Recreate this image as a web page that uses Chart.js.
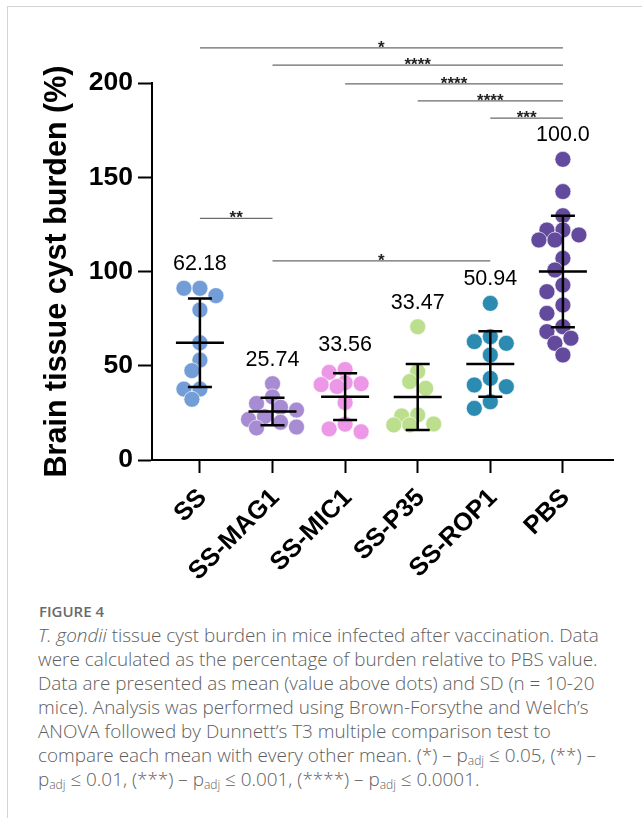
<!DOCTYPE html>
<html>
<head>
<meta charset="utf-8">
<script src="https://cdn.jsdelivr.net/npm/chart.js@4.4.1/dist/chart.umd.min.js"></script>
<style>
  body { margin: 0; background: #fff; width: 642px; height: 818px; overflow: hidden; position: relative; font-family: "Open Sans", sans-serif; }
  #frame { position: absolute; left: 7px; top: 6px; width: 700px; height: 900px; border-left: 1px solid #d4d4d4; border-top: 1px solid #d4d4d4; }
  #wrap { position: absolute; left: 0; top: 0; width: 642px; height: 596px; }
  #fig { position: absolute; left: 39px; top: 601px; font-size: 15px; font-weight: 600; color: #6a6a6a; }
  #cap { position: absolute; left: 38px; top: 623px; font-size: 18.9px; font-weight: 300; line-height: 24px; color: #5e5e5e; white-space: nowrap; }
  sub { font-size: 12px; vertical-align: -3px; line-height: 0; }
</style>
</head>
<body>
<div id="frame"></div>
<div id="wrap"><canvas id="myChart" width="642" height="596"></canvas></div>
<div id="fig">FIGURE 4</div>
<div id="cap">
<i>T. gondii</i> tissue cyst burden in mice infected after vaccination. Data<br>
were calculated as the percentage of burden relative to PBS value.<br>
Data are presented as mean (value above dots) and SD (n = 10-20<br>
mice). Analysis was performed using Brown-Forsythe and Welch’s<br>
ANOVA followed by Dunnett’s T3 multiple comparison test to<br>
compare each mean with every other mean. (*) – p<sub>adj</sub> ≤ 0.05, (**) –<br>
p<sub>adj</sub> ≤ 0.01, (***) – p<sub>adj</sub> ≤ 0.001, (****) – p<sub>adj</sub> ≤ 0.0001.
</div>
<script>
let groups = ['SS', 'SS-MAG1', 'SS-MIC1', 'SS-P35', 'SS-ROP1', 'PBS'];
let colors = ['#729dd6', '#a78bd3', '#ec98e7', '#bcdf8d', '#2b8bb1', '#644a9d'];
let meanLabels = ['62.18', '25.74', '33.56', '33.47', '50.94', '100.0'];
let means = [62.18, 25.74, 33.56, 33.47, 50.94, 100.0];
let sds = [23.5, 7.3, 12.4, 17.5, 17.4, 29.6];

let ssVals = [91.1, 91.1, 87.2, 79.6, 62.2, 53.0, 47.4, 37.6, 37.6, 32.2];
let mag1Vals = [40.5, 33.5, 30, 28, 26.5, 23, 21.5, 20, 17.5, 17];
let mic1Vals = [48, 46.5, 41, 40.5, 40, 39, 30.5, 19, 16.5, 15];
let p35Vals = [70.7, 46.9, 41.6, 38.0, 23.9, 23.4, 19.1, 18.6, 18.6];
let rop1Vals = [83.1, 65.4, 62.8, 61.9, 55.7, 43.3, 39.8, 38.9, 30.9, 27.4];
let pbsVals = [159.5, 142.4, 129.6, 122, 122, 119.4, 116.7, 116.7, 107, 100.8,
               92.8, 89.3, 82.2, 77.8, 70.7, 68.1, 64.6, 61.9, 55.7];
let allVals = [ssVals, mag1Vals, mic1Vals, p35Vals, rop1Vals, pbsVals];

let yTicks = [0, 50, 100, 150, 200];

// [from group, to group, stars, height in % units]
let comparisons = [
    [0, 5, '*', 218.6],
    [1, 5, '****', 209.5],
    [2, 5, '****', 199.5],
    [3, 5, '****', 190.5],
    [4, 5, '***', 181.4],
    [0, 1, '**', 128.2],
    [1, 4, '*', 105.6]
];

let fontFam = '"Liberation Sans", Arial, sans-serif';

// mean line, SD whiskers, mean values and significance bars
let overlay = {
    id: 'overlay',
    afterDatasetsDraw(chart) {
        let ctx = chart.ctx;
        let x = chart.scales.x, y = chart.scales.y;
        ctx.save();
        ctx.strokeStyle = '#000';
        ctx.lineWidth = 2.5;
        means.forEach((m, i) => {
            let cx = x.getPixelForValue(i);
            let pm = y.getPixelForValue(m);
            let pt = y.getPixelForValue(m + sds[i]);
            let pb = y.getPixelForValue(m - sds[i]);
            ctx.beginPath();
            ctx.moveTo(cx - 24, pm); ctx.lineTo(cx + 24, pm);
            ctx.moveTo(cx, pt); ctx.lineTo(cx, pb);
            ctx.moveTo(cx - 12, pt); ctx.lineTo(cx + 12, pt);
            ctx.moveTo(cx - 12, pb); ctx.lineTo(cx + 12, pb);
            ctx.stroke();

            let top = y.getPixelForValue(Math.max(...allVals[i]));
            ctx.fillStyle = '#000';
            ctx.font = '21.5px ' + fontFam;
            ctx.textAlign = 'center';
            ctx.textBaseline = 'middle';
            ctx.fillText(meanLabels[i], cx, top - 24);
        });

        ctx.strokeStyle = '#6b6b6b';
        ctx.lineWidth = 1.2;
        ctx.font = 'bold 17px ' + fontFam;
        ctx.textBaseline = 'alphabetic';
        comparisons.forEach(c => {
            let x1 = x.getPixelForValue(c[0]);
            let x2 = x.getPixelForValue(c[1]);
            let py = y.getPixelForValue(c[3]);
            ctx.beginPath();
            ctx.moveTo(x1, py); ctx.lineTo(x2, py);
            ctx.stroke();
            ctx.fillStyle = '#222';
            ctx.fillText(c[2], (x1 + x2) / 2, py + 5);
        });
        ctx.restore();
    }
};

let datasets = allVals.map((vals, i) => ({
    label: groups[i],
    data: vals.map(v => ({ x: i, y: v })),
    backgroundColor: colors[i],
    borderColor: 'rgba(255,255,255,0.8)',
    borderWidth: 0.8,
    pointRadius: 8,
    pointHoverRadius: 8
}));

let myChart = document.getElementById('myChart').getContext('2d');

let chart = new Chart(myChart, {
    type: 'scatter',
    data: { datasets: datasets },
    options: {
        responsive: false,
        animation: false,
        events: [],
        layout: { padding: { top: 83, right: 29, left: 0, bottom: 0 } },
        plugins: { legend: { display: false }, tooltip: { enabled: false } },
        scales: {
            x: {
                type: 'linear',
                min: -0.66,
                max: 5.69,
                afterBuildTicks: s => { s.ticks = groups.map((g, i) => ({ value: i })); },
                afterFit: s => { s.height = 596 - 460; },
                ticks: {
                    callback: v => groups[v],
                    color: '#000',
                    font: { family: fontFam, size: 25.5, weight: 'bold' },
                    minRotation: 45,
                    maxRotation: 45,
                    padding: 10,
                    labelOffset: 3
                },
                grid: { drawOnChartArea: false, tickLength: 13, tickWidth: 2, tickColor: '#000' },
                border: { color: '#000', width: 2 }
            },
            y: {
                min: 0,
                max: 200,
                afterBuildTicks: s => { s.ticks = yTicks.map(v => ({ value: v })); },
                afterFit: s => { s.width = 152; },
                ticks: {
                    color: '#000',
                    font: { family: fontFam, size: 26.5, weight: 'bold' },
                    padding: 5
                },
                grid: { drawOnChartArea: false, tickLength: 14, tickWidth: 2, tickColor: '#000' },
                border: { color: '#000', width: 2 },
                title: {
                    display: true,
                    text: 'Brain tissue cyst burden (%)',
                    color: '#000',
                    font: { family: fontFam, size: 30.5, weight: 'bold' },
                    padding: { top: 39, bottom: 0 }
                }
            }
        }
    },
    plugins: [overlay]
});

// spread the dots sideways so they do not pile up (simple beeswarm)
function swarm(vals, yScale, minDist, step, maxSteps) {
    let placed = [];
    let offs = vals.map(() => 0);
    let order = vals.map((v, k) => k).sort((a, b) => vals[b] - vals[a]);
    order.forEach(k => {
        let py = yScale.getPixelForValue(vals[k]);
        let best = 0, bestGap = -1;
        for (let n = 0; n <= maxSteps * 2; n++) {
            let cand = n === 0 ? 0 : (n % 2 ? -1 : 1) * Math.ceil(n / 2) * step;
            let gap = placed.length ? Math.min(...placed.map(p => Math.hypot(p.x - cand, p.y - py))) : 1e9;
            if (gap >= minDist) { best = cand; bestGap = gap; break; }
            if (gap > bestGap) { best = cand; bestGap = gap; }
        }
        offs[k] = best;
        placed.push({ x: best, y: py });
    });
    return offs;
}

let unit = chart.scales.x.getPixelForValue(1) - chart.scales.x.getPixelForValue(0);
allVals.forEach((vals, i) => {
    let offs = swarm(vals, chart.scales.y, 12.5, 8, 3);
    chart.data.datasets[i].data = vals.map((v, k) => ({ x: i + offs[k] / unit, y: v }));
});
chart.update('none');
</script>
</body>
</html>
